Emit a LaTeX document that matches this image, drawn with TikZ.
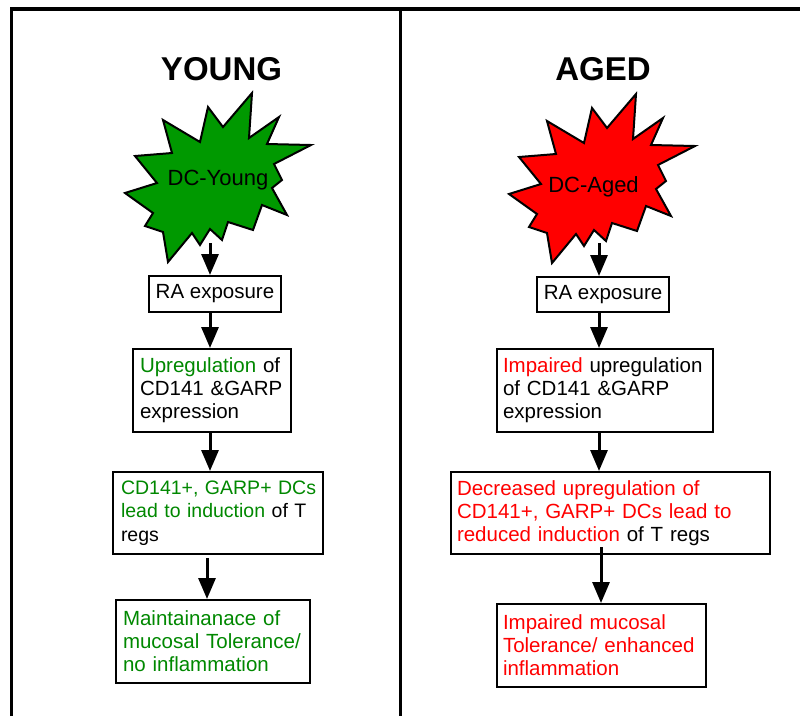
\documentclass[tikz,border=0pt]{standalone}
\usepackage{fontspec}
\setmainfont{Liberation Sans}
\usetikzlibrary{arrows.meta}
\definecolor{stargreen}{RGB}{0,153,0}
\definecolor{txtgreen}{RGB}{0,136,0}
\definecolor{txtred}{RGB}{255,0,0}
\newcommand{\tline}[1]{\mbox{#1}}
\begin{document}
\begin{tikzpicture}[x=1pt,y=-1pt,
  frameline/.style={line width=3.5pt},
  box/.style={draw,line width=2pt,inner sep=0pt,font=\fontsize{20.5}{23}\selectfont},
  txtbox/.style={box,align=left},
  arr/.style={line width=3pt,-{Triangle[length=21pt,width=17pt]}},
  title/.style={font=\fontsize{33}{33}\selectfont\bfseries,anchor=base},
  dctext/.style={font=\fontsize{22}{22}\selectfont,anchor=base},
  dcstar/.pic={
    \path[pic actions,draw=black,line width=2pt,line join=miter]
      (252,93) -- (249,138) -- (279,117) -- (267,144) -- (311,145) -- (274,164)
      -- (282,180) -- (272,188) -- (287,215) -- (262,205) -- (253,230) -- (228,222)
      -- (222,240) -- (210,229) -- (200,245) -- (192,233) -- (168,262) -- (163,232)
      -- (145,226) -- (153,213) -- (125,193) -- (157,183) -- (135,156) -- (172,153)
      -- (163,120) -- (200,142) -- (208,107) -- (223,127) -- cycle;
  }
]
\useasboundingbox (0,0) rectangle (800,716);
\fill[white] (0,0) rectangle (800,716);

% frame
\draw[frameline] (11.5,716) -- (11.5,9) -- (800,9);
\draw[frameline] (400.5,9) -- (400.5,716);

% titles
\node[title] (tyoung) at (221.5,80) {YOUNG};
\node[title] (taged) at (603,80) {AGED};

% stars
\pic[fill=stargreen] at (0,0) {dcstar};
\pic[fill=txtred] at (384,1) {dcstar};
\node[dctext] (dc1) at (218,185) {DC-Young};
\node[dctext] (dc2) at (593.5,192) {DC-Aged};
\coordinate (s1) at (210,243);
\coordinate (s2) at (599,243);

% young column
\node[box,minimum width=132pt,minimum height=36pt] (ra1) at (215,294) {RA exposure};
\node[txtbox,minimum width=158pt,minimum height=83pt,text width=144pt] (up1) at (212,390.5)
  {\tline{\textcolor{txtgreen}{Upregulation} of}\\\tline{CD141 \&GARP}\\\tline{expression}};
\node[txtbox,minimum width=210pt,minimum height=82pt,text width=194pt,font=\fontsize{19.5}{23.5}\selectfont] (cd1) at (218,513)
  {\tline{\textcolor{txtgreen}{CD141+, GARP+ DCs}}\\\tline{\textcolor{txtgreen}{lead to induction} of T}\\\tline{regs}};
\node[txtbox,minimum width=194pt,minimum height=83pt,text width=180pt,text=txtgreen] (mt1) at (213,641.5)
  {\tline{Maintainanace of}\\\tline{mucosal Tolerance/}\\\tline{no inflammation}};

\coordinate (xa) at (210,0);
\coordinate (xb) at (207,0);
\draw[arr] (s1) -- (ra1.north -| xa);
\draw[arr] (ra1.south -| xa) -- (up1.north -| xa);
\draw[arr] (up1.south -| xa) -- (cd1.north -| xa);
\draw[arr] ([yshift=-3pt]cd1.south -| xb) -- (mt1.north -| xb);

% aged column
\node[box,minimum width=132pt,minimum height=35pt] (ra2) at (603,294.5) {RA exposure};
\node[txtbox,minimum width=216pt,minimum height=83pt,text width=204pt] (up2) at (605,390.5)
  {\tline{\textcolor{txtred}{Impaired} upregulation}\\\tline{of CD141 \&GARP}\\\tline{expression}};
\node[txtbox,minimum width=319pt,minimum height=82pt,text width=307pt] (cd2) at (610.5,513)
  {\tline{\textcolor{txtred}{Decreased upregulation of}}\\\tline{\textcolor{txtred}{CD141+, GARP+ DCs lead to}}\\\tline{\textcolor{txtred}{reduced induction} of T regs}};
\node[txtbox,minimum width=209pt,minimum height=83pt,text width=197pt,text=txtred] (mt2) at (601.5,645.5)
  {\tline{Impaired mucosal}\\\tline{Tolerance/ enhanced}\\\tline{inflammation}};

\coordinate (xc) at (599,0);
\coordinate (xd) at (601,0);
\draw[arr] (s2) -- (ra2.north -| xc);
\draw[arr] (ra2.south -| xc) -- (up2.north -| xc);
\draw[arr] (up2.south -| xc) -- (cd2.north -| xc);
\draw[arr] ([yshift=8pt]cd2.south -| xd) -- (mt2.north -| xd);
\end{tikzpicture}
\end{document}
